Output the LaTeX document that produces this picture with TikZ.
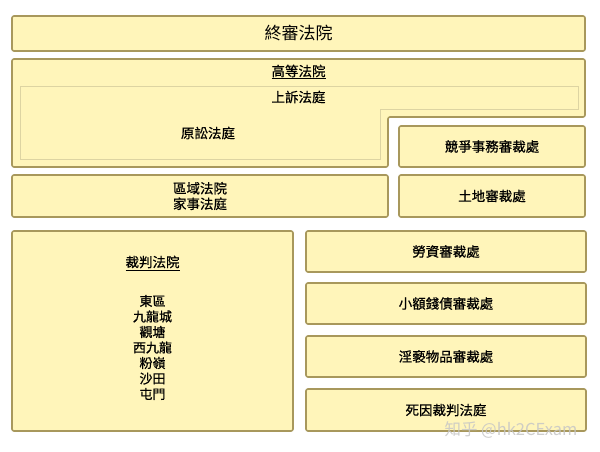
\documentclass[tikz,border=0pt]{standalone}
\usepackage{fontspec}
\newfontfamily\cjk[FakeBold=0.7]{Noto Sans CJK TC}
\newfontfamily\cjkwm{Noto Sans CJK TC}
\definecolor{fillc}{HTML}{FFF5BA}
\definecolor{bordc}{HTML}{A8985C}
\definecolor{innerbord}{HTML}{DDD4A2}
\tikzset{
  court/.style={draw=bordc, line width=1.6pt, fill=fillc, rounded corners=2pt, inner sep=0pt, align=center, font=\cjk\fontsize{13.5}{15.5}\selectfont},
  innerl/.style={draw=innerbord, line width=0.9pt, fill=fillc},
  lbl/.style={inner sep=0pt, align=center, font=\cjk\fontsize{13.5}{15.5}\selectfont},
}
\begin{document}
\begin{tikzpicture}[x=1pt,y=-1pt]
\useasboundingbox[fill=white] (0,0) rectangle (600,452);
% Court of Final Appeal
\node[court, minimum width=573pt, minimum height=35pt, font=\cjkwm\fontsize{17}{19}\selectfont] (cfa) at (298.5,33.5) {終審法院};
% High Court (L-shaped)
\draw[court] (12,59) -- (585,59) -- (585,117) -- (388,117) -- (388,167) -- (12,167) -- cycle;
\draw[innerl] (20,86) -- (578,86) -- (578,109) -- (380,109) -- (380,159) -- (20,159) -- cycle;
\node[lbl] (high) at (298.5,72) {\underline{高等法院}};
\node[lbl] (appeal) at (298.5,97) {上訴法庭};
\node[lbl] (cfi) at (208,133) {原訟法庭};
% right column upper
\node[court, minimum width=186pt, minimum height=41pt] (comp) at (492,146.5) {競爭事務審裁處};
\node[court, minimum width=376pt, minimum height=42pt] (district) at (200,196) {區域法院\\家事法庭};
\node[court, minimum width=186pt, minimum height=42pt] (land) at (492,196) {土地審裁處};
% Magistrates
\node[court, minimum width=281pt, minimum height=200pt] (mag) at (152.5,331) {};
\node[lbl] (magt) at (152.5,263) {\underline{裁判法院}};
\node[lbl, font=\cjk\fontsize{13}{15.5}\selectfont] (magl) at (152.5,347.5) {東區\\九龍城\\觀塘\\西九龍\\粉嶺\\沙田\\屯門};
% Tribunals
\node[court, minimum width=280pt, minimum height=41pt] (labour) at (446,251.5) {勞資審裁處};
\node[court, minimum width=280pt, minimum height=41pt] (small) at (446,303.5) {小額錢債審裁處};
\node[court, minimum width=280pt, minimum height=41pt] (obscene) at (446,356.5) {淫褻物品審裁處};
\node[court, minimum width=280pt, minimum height=42pt] (coroner) at (446,410) {死因裁判法庭};
% watermark
\node[inner sep=0pt, text=gray!45, opacity=0.85, font=\cjkwm\fontsize{16.5}{18}\selectfont] (wm) at (511,430) {知乎 @hk2CExam};
\end{tikzpicture}
\end{document}
